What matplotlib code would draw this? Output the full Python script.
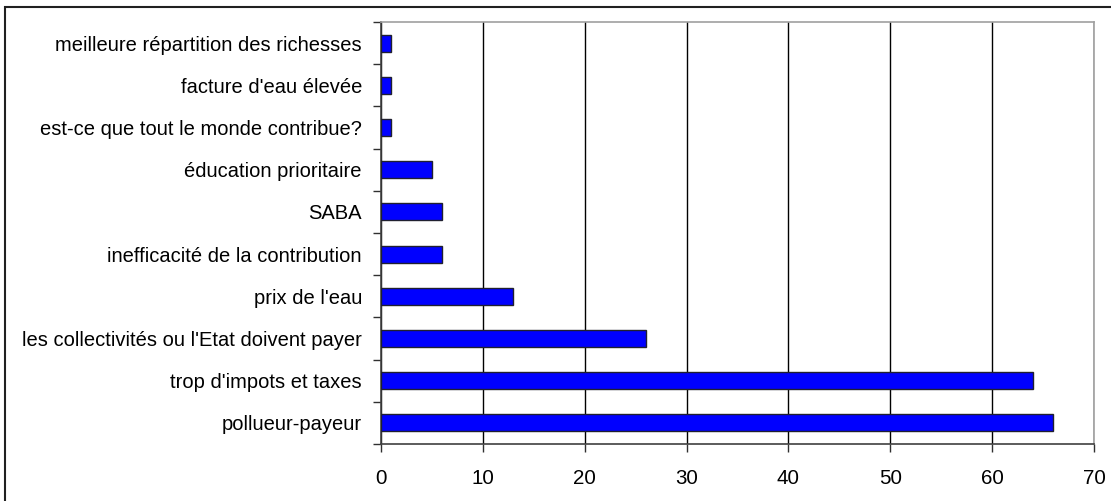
import matplotlib
matplotlib.use("Agg")
import matplotlib.pyplot as plt
from matplotlib.patches import Rectangle
import numpy as np

categories = [
    "pollueur-payeur",
    "trop d'impots et taxes",
    "les collectivités ou l'Etat doivent payer",
    "prix de l'eau",
    "inefficacité de la contribution",
    "SABA",
    "éducation prioritaire",
    "est-ce que tout le monde contribue?",
    "facture d'eau élevée",
    "meilleure répartition des richesses",
]
values = [66, 64, 26, 13, 6, 6, 5, 1, 1, 1]
xticks = [0, 10, 20, 30, 40, 50, 60, 70]

plt.rcParams['font.family'] = ['Liberation Sans', 'DejaVu Sans']

W, H = 1111, 501
fig = plt.figure(figsize=(W / 100, H / 100), dpi=100)
ax = fig.add_axes([381 / W, 1 - 444 / H, (1094 - 381) / W, (444 - 22) / H])

y = np.arange(len(categories))
ax.barh(y, values, height=0.4, color="#0000FF", edgecolor="#202030",
        linewidth=1.0, zorder=3)

ax.set_xlim(0, 70)
ax.set_ylim(-0.5, len(categories) - 0.5)
ax.set_xticks(xticks)
ax.set_xticklabels([str(t) for t in xticks], fontsize=14.8)
ax.grid(axis="x", color="black", linewidth=1.0, zorder=1)
ax.set_axisbelow(True)

ax.set_yticks(y)
ax.set_yticklabels(categories, fontsize=14.5)
ax.tick_params(axis="y", which="major", length=0, pad=13.7)
ax.set_yticks(np.arange(-0.5, len(categories)), minor=True)
ax.tick_params(axis="y", which="minor", length=6, width=1.0, color="#303030", direction="out")
ax.tick_params(axis="x", which="major", length=6, width=1.0, color="#303030",
               direction="out", pad=12)

for s in ["left", "bottom"]:
    ax.spines[s].set_color("#404040")
    ax.spines[s].set_linewidth(1.2)
for s in ["top", "right"]:
    ax.spines[s].set_color("#a0a0a0")
    ax.spines[s].set_linewidth(1.2)

fig.patches.append(Rectangle((5 / W, -0.1), 1.2, 1.1 - 7 / H + 0.0,
                             transform=fig.transFigure, fill=False,
                             edgecolor="#202020", linewidth=1.5))

fig.savefig("out.png", dpi=100)
